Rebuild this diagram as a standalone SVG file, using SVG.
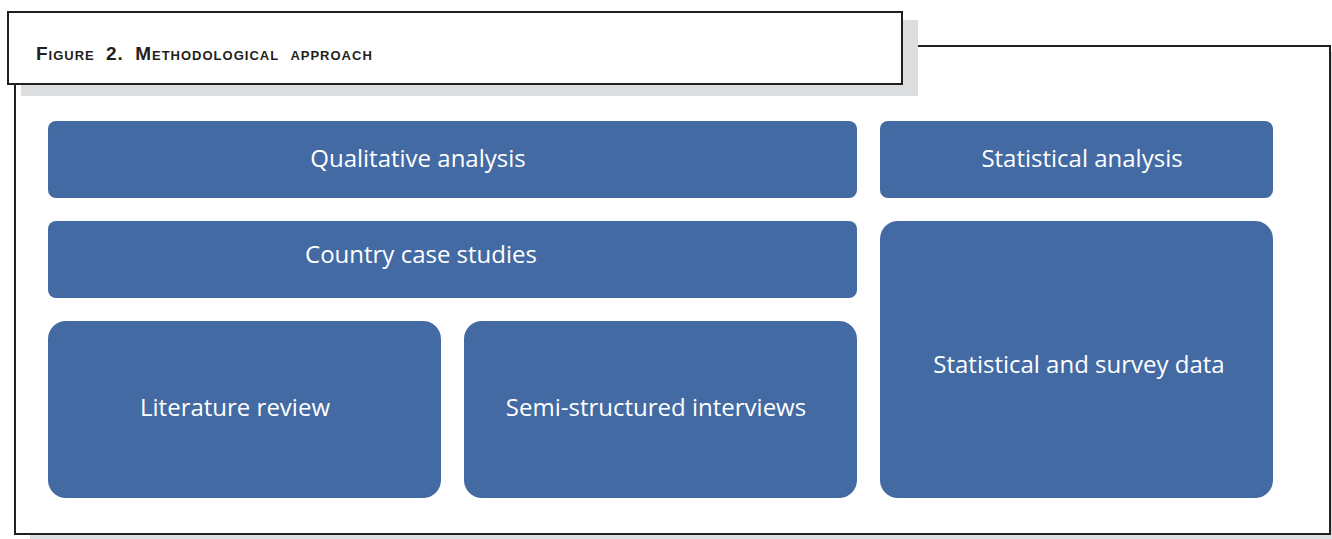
<svg xmlns="http://www.w3.org/2000/svg" width="1332" height="539" viewBox="0 0 1332 539">
<style>
.box{fill:#436AA3;}
.lbl{font-family:"Open Sans","Noto Sans",sans-serif;font-size:24px;fill:#ffffff;text-anchor:middle;}
.shadow{fill:#DCDDDE;}
.frame{fill:#ffffff;stroke:#231F20;stroke-width:2;}
</style>
<g id="frame">
<rect class="shadow" x="30" y="52" width="1302" height="487"/>
<rect class="frame" x="15" y="46" width="1315" height="488"/>
</g>
<g id="title">
<rect class="shadow" x="21" y="20" width="897" height="76"/>
<rect class="frame" x="8" y="12" width="894" height="72"/>
<text x="36" y="60" font-family="'Liberation Sans',sans-serif" font-weight="bold" font-size="19" font-variant="small-caps" letter-spacing="1" word-spacing="5" fill="#231F20">Figure 2. Methodological approach</text>
</g>
<g id="qualitative">
<rect class="box" x="48" y="121" width="809" height="77" rx="8"/>
<text class="lbl" x="418" y="167">Qualitative analysis</text>
</g>
<g id="statistical">
<rect class="box" x="880" y="121" width="393" height="77" rx="8"/>
<text class="lbl" x="1082" y="167">Statistical analysis</text>
</g>
<g id="country">
<rect class="box" x="48" y="221" width="809" height="77" rx="8"/>
<text class="lbl" x="421" y="263">Country case studies</text>
</g>
<g id="literature">
<rect class="box" x="48" y="321" width="393" height="177" rx="18"/>
<text class="lbl" x="235" y="416">Literature review</text>
</g>
<g id="interviews">
<rect class="box" x="464" y="321" width="393" height="177" rx="18"/>
<text class="lbl" x="656" y="416">Semi-structured interviews</text>
</g>
<g id="survey">
<rect class="box" x="880" y="221" width="393" height="277" rx="18"/>
<text class="lbl" x="1079" y="373">Statistical and survey data</text>
</g>
<g id="connectors"></g>
</svg>
